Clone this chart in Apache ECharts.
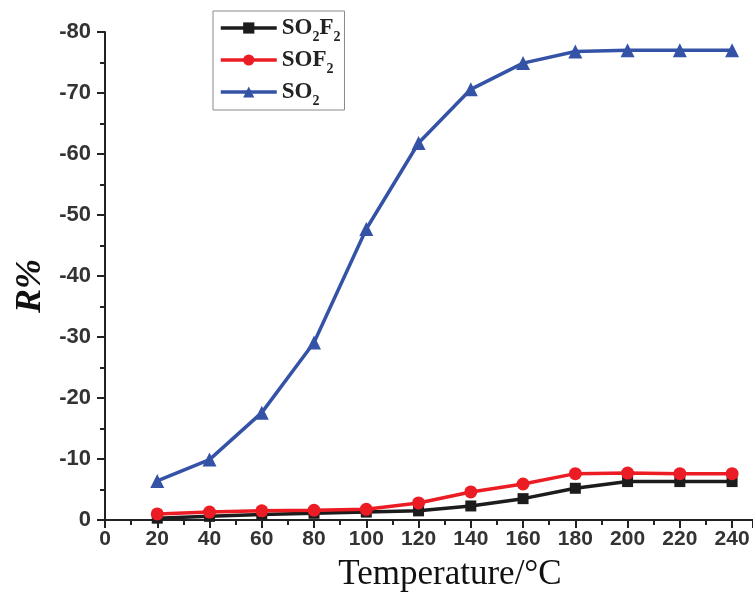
<!DOCTYPE html>
<html><head><meta charset="utf-8">
<script src="https://cdn.jsdelivr.net/npm/echarts@6/dist/echarts.min.js"></script>
<style>html,body{margin:0;padding:0;background:#fff}#c{width:753px;height:595px}</style>
</head><body><div id="c"></div>
<script>
var temps = [20, 40, 60, 80, 100, 120, 140, 160, 180, 200, 220, 240];
var so2f2 = [-0.3, -0.6, -0.9, -1.1, -1.3, -1.5, -2.3, -3.5, -5.2, -6.3, -6.3, -6.3];
var sof2 = [-1.0, -1.3, -1.5, -1.6, -1.75, -2.8, -4.6, -5.9, -7.6, -7.7, -7.6, -7.6];
var so2 = [-6.4, -9.9, -17.6, -29.1, -47.7, -61.8, -70.6, -74.9, -76.8, -77.0, -77.0, -77.0];
var seriesNames = ['SO2F2', 'SOF2', 'SO2'];
var legendLabels = {'SO2F2': 'SO{s|2}F{s|2}', 'SOF2': 'SOF{s|2}', 'SO2': 'SO{s|2}'};
var colors = ['#1c1c1c', '#ec1c24', '#3553a6'];
var symbols = ['rect', 'circle', 'triangle'];
var symbolSizes = [11, 13, 14];
var values = [so2f2, sof2, so2];

function pairs(v){ return temps.map(function(t,i){ return [t, v[i]]; }); }

var serif = 'Liberation Serif, Times New Roman, serif';
var sans = 'Liberation Sans, Arial, sans-serif';
var chart = echarts.init(document.getElementById('c'));
var axisCol = '#222';
chart.setOption({
  animation: false,
  backgroundColor: '#fff',
  grid: {left: 105, right: 0, top: 32, bottom: 75, outerBoundsMode: 'none', containLabel: false},
  legend: {
    left: 213, top: 11,
    orient: 'vertical',
    data: seriesNames,
    formatter: function(n){ return legendLabels[n]; },
    itemWidth: 56, itemHeight: 14, itemGap: 4,
    borderColor: '#888', borderWidth: 1,
    padding: [5, 4, 2, 6],
    lineStyle: {width: 3.5},
    textStyle: {
      fontFamily: serif, fontWeight: 'bold', fontSize: 23, lineHeight: 24, color: '#222',
      rich: {s: {fontFamily: serif, fontWeight: 'bold', fontSize: 14, lineHeight: 24, color: '#222', verticalAlign: 'bottom', padding: [0,0,-4,0]}}
    }
  },
  xAxis: {
    type: 'value', min: 0, max: 248, interval: 20,
    name: 'Temperature/°C', nameLocation: 'middle', nameGap: 37,
    nameTextStyle: {fontFamily: serif, fontSize: 35, color: '#111', padding: [0,0,0,42]},
    axisLine: {lineStyle: {color: axisCol, width: 2}},
    axisTick: {inside: false, length: 8, lineStyle: {color: axisCol, width: 2}},
    minorTick: {show: true, splitNumber: 2, length: 5, lineStyle: {color: axisCol, width: 2}},
    splitLine: {show: false},
    axisLabel: {fontFamily: sans, fontWeight: 'bold', fontSize: 21, color: '#333', margin: 9, showMaxLabel: false}
  },
  yAxis: {
    type: 'value', min: -80, max: 0, interval: 10, inverse: true,
    name: 'R%', nameLocation: 'middle', nameGap: 56, nameRotate: 90,
    nameTextStyle: {fontFamily: serif, fontSize: 36, fontWeight: 'bold', fontStyle: 'italic', color: '#111', padding: [0,0,0,-20]},
    axisLine: {lineStyle: {color: axisCol, width: 2}},
    axisTick: {inside: false, length: 8, lineStyle: {color: axisCol, width: 2}},
    minorTick: {show: true, splitNumber: 2, length: 5, lineStyle: {color: axisCol, width: 2}},
    splitLine: {show: false},
    axisLabel: {fontFamily: sans, fontWeight: 'bold', fontSize: 22, color: '#333', margin: 14}
  },
  series: seriesNames.map(function(n, i){
    return {
      name: n, type: 'line', data: pairs(values[i]),
      symbol: symbols[i], symbolSize: symbolSizes[i],
      lineStyle: {color: colors[i], width: 3.5},
      itemStyle: {color: colors[i]},
      z: 2 + i
    };
  })
});
</script></body></html>
